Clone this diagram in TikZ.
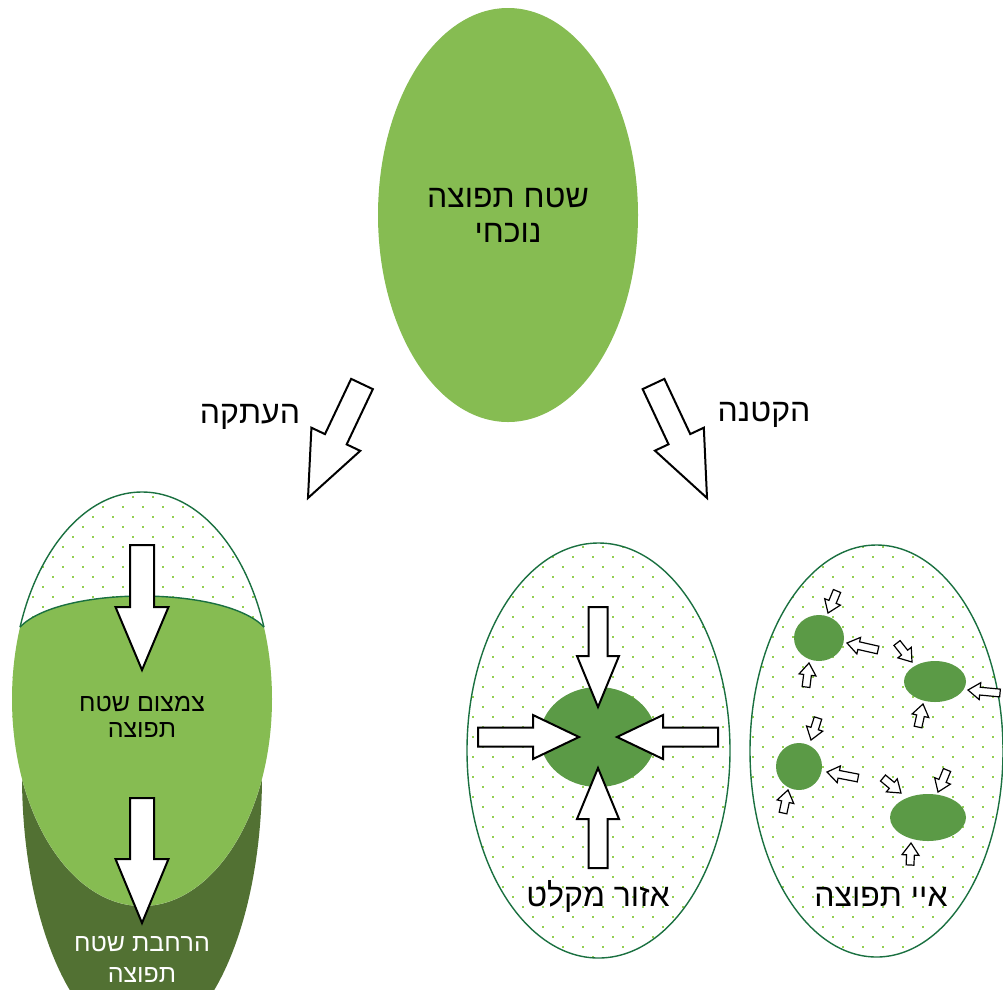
\documentclass[tikz,border=0pt]{standalone}
\usepackage{fontspec}
\setmainfont{Liberation Sans}
\TeXXeTstate=1
\usetikzlibrary{calc}

\definecolor{leaf}{HTML}{86BC52}
\definecolor{moss}{HTML}{527133}
\definecolor{blob}{HTML}{5B9A46}
\definecolor{rim}{HTML}{1A7040}
\definecolor{speck}{HTML}{92D050}

\newcommand\heb[1]{\beginR #1\endR}

% block arrow: tail, tip, shaft half-width, head half-width, head length
\newcommand\blockarr[6][arrowbox]{%
  \coordinate (ba-b) at ($(#3)!#6!(#2)$);
  \draw[#1] ($(#2)!#4!90:(#3)$) -- ($(ba-b)!#4!-90:(#2)$) -- ($(ba-b)!#5!-90:(#2)$)
    -- (#3) -- ($(ba-b)!#5!90:(#2)$) -- ($(ba-b)!#4!90:(#2)$) -- ($(#2)!#4!-90:(#3)$) -- cycle;
}

% staggered dot grid: columns #1..#2, rows #3..#4
\newcommand\specks[4]{%
  \foreach \j in {#3,...,#4}{%
    \foreach \i in {#1,...,#2}{%
      \fill[speck] ({20*\i+3+10*mod(\j,2)-1},{10*\j+7-1}) rectangle ++(2,2);
    }%
  }%
}

\tikzset{
  arrowbox/.style={draw=black, fill=white, line width=2pt, line join=miter},
  smallarrow/.style={draw=black, fill=white, line width=1.2pt, line join=miter},
  rimline/.style={draw=rim, line width=1.4pt},
  bigtext/.style={font=\fontsize{32}{38}\selectfont, anchor=base, inner sep=0pt},
  midtext/.style={font=\fontsize{25}{30}\selectfont, anchor=base, inner sep=0pt},
}

\begin{document}
\begin{tikzpicture}[x=1pt,y=-1pt]
\useasboundingbox (0,0) rectangle (1003,989);

% ---------- current range ----------
\fill[leaf] (508,215) ellipse [x radius=130pt, y radius=207pt];
\node[bigtext] (cur1) at (508,207) {\heb{שטח תפוצה}};
\node[bigtext] (cur2) at (508,242) {\heb{נוכחי}};

% ---------- branch arrows ----------
\coordinate (lt) at (362,384);
\coordinate (lp) at (308,498);
\coordinate (rt) at (653.5,384);
\coordinate (rp) at (707,498);
\blockarr{lt}{lp}{12pt}{27pt}{65pt}
\blockarr{rt}{rp}{12pt}{27pt}{65pt}
\node[bigtext] (copy) at (250,423) {\heb{העתקה}};
\node[bigtext] (shrink) at (764,421) {\heb{הקטנה}};

% ---------- left: tracking the range ----------
\fill[moss] (142,776) ellipse [x radius=120pt, y radius=268pt];
\begin{scope}
  \clip (142,699) ellipse [x radius=130pt, y radius=207pt];
  \fill[white] (0,480) rectangle (290,910);
  \specks{0}{14}{48}{91}
  \fill[leaf] (0,627) -- (20,627) .. controls (60,585.7) and (224,585.7) .. (264,627)
    -- (290,627) -- (290,920) -- (0,920) -- cycle;
\end{scope}
\begin{scope}
  \clip (0,470) -- (0,627) -- (20,627) .. controls (60,585.7) and (224,585.7) .. (264,627)
    -- (290,627) -- (290,470) -- cycle;
  \draw[rimline] (142,699) ellipse [x radius=130pt, y radius=207pt];
\end{scope}
\draw[rimline] (20,627) .. controls (60,585.7) and (224,585.7) .. (264,627);

\coordinate (s1t) at (142,545);
\coordinate (s1p) at (142,670);
\coordinate (s2t) at (142,798);
\coordinate (s2p) at (142,923);
\blockarr{s1t}{s1p}{12pt}{26.5pt}{63pt}
\blockarr{s2t}{s2p}{12pt}{26.5pt}{64pt}
\node[midtext] (shr1) at (142,711) {\heb{צמצום שטח}};
\node[midtext] (shr2) at (142,737) {\heb{תפוצה}};
\node[midtext, text=white] (exp1) at (142,951) {\heb{הרחבת שטח}};
\node[midtext, text=white] (exp2) at (142,982) {\heb{תפוצה}};

% ---------- middle: refuge ----------
\begin{scope}
  \clip (598.5,750.5) ellipse [x radius=131.5pt, y radius=207.5pt];
  \specks{22}{37}{53}{96}
\end{scope}
\draw[rimline] (598.5,750.5) ellipse [x radius=131.5pt, y radius=207.5pt];
\fill[blob] (598,737) ellipse [x radius=58pt, y radius=50pt];
\coordinate (nt) at (598,607);   \coordinate (np) at (598,707);
\coordinate (st) at (598,868);   \coordinate (sp) at (598,768);
\coordinate (wt) at (478,737);   \coordinate (wp) at (579,737);
\coordinate (et) at (718,737);   \coordinate (ep) at (617,737);
\blockarr{nt}{np}{9.5pt}{21pt}{51pt}
\blockarr{st}{sp}{9.5pt}{21pt}{51pt}
\blockarr{wt}{wp}{9.5pt}{22pt}{46pt}
\blockarr{et}{ep}{9.5pt}{22pt}{46pt}
\node[bigtext] (refuge) at (598,906) {\heb{אזור מקלט}};

% ---------- right: islands ----------
\begin{scope}
  \clip (876.5,751) ellipse [x radius=126.5pt, y radius=206pt];
  \specks{36}{50}{53}{96}
\end{scope}
\draw[rimline] (876.5,751) ellipse [x radius=126.5pt, y radius=206pt];
\fill[blob] (819,638) ellipse [x radius=25pt, y radius=23pt];
\fill[blob] (935,681.5) ellipse [x radius=31pt, y radius=20.5pt];
\fill[blob] (799,766.5) ellipse [x radius=23pt, y radius=23.5pt];
\fill[blob] (928,817.5) ellipse [x radius=38pt, y radius=23.5pt];

\foreach \n/\ta/\tb/\pa/\pb in {
  a/837/591/828/613, b/878/650/847/643, c/806/687/809/663,
  d/897/643/912/662, e/1000/693/968/690, f/918/727/923/704,
  g/818/718/811/740, h/858/778/827/772, i/783/813/788/790,
  j/883/778/901/793, k/947/770/938/792, l/910/865/911/843}{
  \coordinate (t-\n) at (\ta,\tb);
  \coordinate (p-\n) at (\pa,\pb);
  \blockarr[smallarrow]{t-\n}{p-\n}{3.9pt}{8.5pt}{12pt}
}
\node[bigtext] (isles) at (881,906) {\heb{איי תפוצה}};

\end{tikzpicture}
\end{document}
